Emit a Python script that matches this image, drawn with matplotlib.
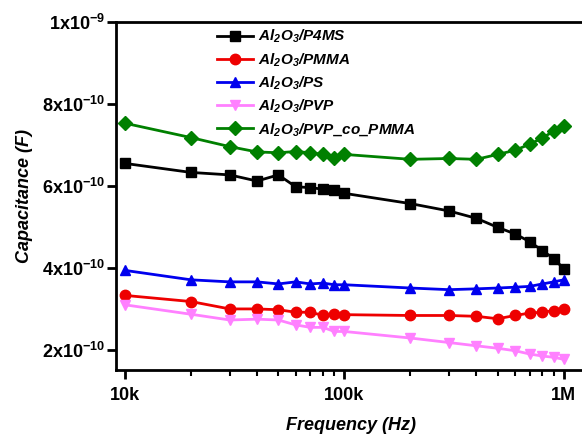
import matplotlib
matplotlib.use("Agg")
import matplotlib.pyplot as plt
from matplotlib.ticker import FixedLocator, FixedFormatter, LogLocator, NullFormatter

plt.rcParams['font.family'] = ['Liberation Sans', 'DejaVu Sans']
plt.rcParams['mathtext.default'] = 'regular'

freq = [1e4, 2e4, 3e4, 4e4, 5e4, 6e4, 7e4, 8e4, 9e4, 1e5,
        2e5, 3e5, 4e5, 5e5, 6e5, 7e5, 8e5, 9e5, 1e6]

p4ms = [6.55, 6.33, 6.27, 6.12, 6.27, 5.98, 5.96, 5.92, 5.89, 5.82,
        5.57, 5.39, 5.21, 4.99, 4.83, 4.64, 4.42, 4.23, 3.98]
pmma = [3.33, 3.18, 3.00, 3.00, 2.98, 2.92, 2.92, 2.84, 2.87, 2.86,
        2.84, 2.84, 2.82, 2.76, 2.84, 2.90, 2.92, 2.96, 2.99]
ps = [3.94, 3.71, 3.66, 3.66, 3.61, 3.66, 3.61, 3.63, 3.59, 3.59,
      3.51, 3.47, 3.49, 3.51, 3.53, 3.55, 3.61, 3.66, 3.71]
pvp = [3.10, 2.87, 2.73, 2.75, 2.73, 2.61, 2.55, 2.55, 2.45, 2.45,
       2.29, 2.18, 2.10, 2.04, 1.98, 1.90, 1.85, 1.82, 1.77]
pvp_co_pmma = [7.53, 7.18, 6.96, 6.83, 6.81, 6.84, 6.81, 6.77, 6.69, 6.77,
               6.65, 6.67, 6.65, 6.77, 6.87, 7.02, 7.17, 7.34, 7.46]

labels = ['Al$_2$O$_3$/P4MS', 'Al$_2$O$_3$/PMMA', 'Al$_2$O$_3$/PS',
          'Al$_2$O$_3$/PVP', 'Al$_2$O$_3$/PVP_co_PMMA']
colors = ['#000000', '#ee0000', '#0000ee', '#ff80ff', '#008000']
markers = ['s', 'o', '^', 'v', 'D']
msizes = [6.5, 7.5, 7.5, 7.5, 7.0]
series = [p4ms, pmma, ps, pvp, pvp_co_pmma]

ytick_vals = [2e-10, 4e-10, 6e-10, 8e-10, 1e-9]
ytick_labels = ['2x10$^{-10}$', '4x10$^{-10}$', '6x10$^{-10}$', '8x10$^{-10}$', '1x10$^{-9}$']
xtick_vals = [1e4, 1e5, 1e6]
xtick_labels = ['10k', '100k', '1M']

fig = plt.figure(figsize=(5.82, 4.34), dpi=100)
ax = fig.add_axes([116/582, 1-370/434, (585-116)/582, (370-22)/434])

for vals, lab, c, m, ms in zip(series, labels, colors, markers, msizes):
    ax.plot(freq, [v*1e-10 for v in vals], color=c, marker=m, markersize=ms,
            linewidth=2, label=lab)

ax.set_xscale('log')
ax.set_xlim(9.1e3, 1.25e6)
ax.set_ylim(1.51e-10, 1e-9)

ax.yaxis.set_major_locator(FixedLocator(ytick_vals))
ax.yaxis.set_major_formatter(FixedFormatter(ytick_labels))
ax.xaxis.set_major_locator(FixedLocator(xtick_vals))
ax.xaxis.set_major_formatter(FixedFormatter(xtick_labels))
ax.xaxis.set_minor_locator(LogLocator(base=10, subs=[2, 3, 4, 5, 6, 7, 8, 9]))
ax.xaxis.set_minor_formatter(NullFormatter())
ax.yaxis.set_minor_locator(FixedLocator([]))

for s in ax.spines.values():
    s.set_linewidth(2)
ax.spines['right'].set_visible(False)

ax.tick_params(axis='both', which='major', direction='out', length=6.5, width=2,
               labelsize=13, pad=1.5)
ax.tick_params(axis='x', which='minor', direction='out', length=4, width=1.5)
ax.tick_params(axis='x', which='major', pad=6)
for t in ax.get_xticklabels() + ax.get_yticklabels():
    t.set_fontweight('bold')

ax.set_xlabel('Frequency (Hz)', fontsize=13, fontweight='bold', fontstyle='italic', labelpad=9)
ax.set_ylabel('Capacitance (F)', fontsize=13, fontweight='bold', fontstyle='italic', labelpad=6)

leg = ax.legend(loc='upper left', bbox_to_anchor=(0.2154, 0.983), frameon=False,
                prop={'weight': 'bold', 'style': 'italic', 'size': 11},
                handlelength=2.35, handletextpad=0.3, labelspacing=0.38,
                borderaxespad=0, borderpad=0)

fig.savefig('out.png', dpi=100)
